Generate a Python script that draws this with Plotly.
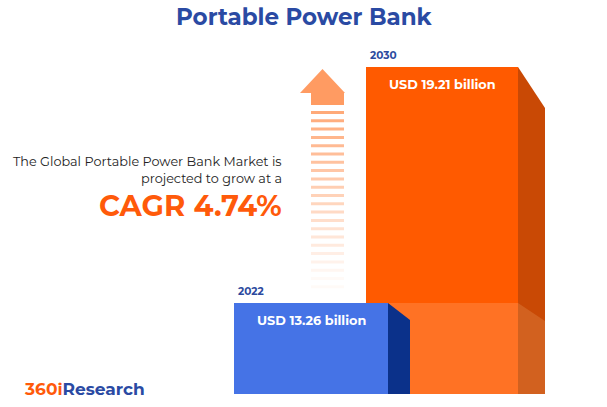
import plotly.graph_objects as go

years = ['2022', '2030']
values = [13.26, 19.21]
labels = ['USD 13.26 billion', 'USD 19.21 billion']
# drawn bar heights in pixels (the bars are not to scale)
bar_px = [91, 327]
bar_x = [311, 442]
bar_w = [154, 152]
front = ['#4573e6', '#ff5a00']
side = ['#0b318a', '#c94905']

H = 407
base = H - 394


def poly(xs, ys, color):
    return go.Scatter(x=xs, y=ys, fill='toself', fillcolor=color, line_width=0,
                      mode='lines', hoverinfo='skip')


fig = go.Figure()

# orange bar
x0, x1 = bar_x[1] - bar_w[1] / 2, bar_x[1] + bar_w[1] / 2
top = base + bar_px[1]
fig.add_trace(poly([x1, x1 + 27, x1 + 27, x1], [top, top - 41, base, base], side[1]))
fig.add_trace(go.Bar(x=[bar_x[1]], y=[bar_px[1]], base=base, width=bar_w[1],
                     marker_color=front[1], marker_line_width=0, hoverinfo='skip'))
# lighter lower part of the orange bar behind the blue one
blue_top = base + bar_px[0]
fig.add_trace(poly([x0, x1, x1, x0], [blue_top, blue_top, base, base], '#ff7224'))
fig.add_trace(poly([x1, x1 + 27, x1 + 27, x1], [blue_top, blue_top - 18, base, base], '#d2611f'))

# blue bar
bx0, bx1 = bar_x[0] - bar_w[0] / 2, bar_x[0] + bar_w[0] / 2
fig.add_trace(poly([bx1, bx1 + 22, bx1 + 22, bx1], [blue_top, blue_top - 17, base, base], side[0]))
fig.add_trace(poly([bx0, bx1, bx1, bx0], [blue_top, blue_top, base, base], front[0]))

# arrow
fig.add_trace(poly([300, 322.5, 345, 344, 344, 311, 311, 300],
                   [H - 93, H - 69, H - 93, H - 93, H - 105, H - 105, H - 93, H - 93], '#ff9b62'))
shapes = []
for i in range(22):
    y = 111 + i * 8.3
    op = max(0.05, 0.85 - i * 0.04)
    shapes.append(dict(type='rect', x0=311, x1=344, y0=H - y - 3, y1=H - y,
                       fillcolor='#ff9b62', opacity=op, line_width=0, layer='below'))

for yr, lab, v, cx, w, px_h in zip(years, labels, values, bar_x, bar_w, bar_px):
    t = base + px_h
    fig.add_annotation(x=cx - w / 2 + 2, y=t + 3, text='<b>%s</b>' % yr, showarrow=False,
                       xanchor='left', yanchor='bottom', font=dict(size=10.5, color='#2c4a9e'))
    fig.add_annotation(x=cx, y=t - 17, text='<b>%s</b>' % lab, showarrow=False,
                       font=dict(size=12.8, color='white'))

fig.add_annotation(x=304, y=H - 17, text='<b>Portable Power Bank</b>', showarrow=False,
                   font=dict(size=23, color='#2a4aa3'))
fig.add_annotation(x=284, y=H - 161, text='The Global Portable Power Bank Market is',
                   xanchor='right', showarrow=False, font=dict(size=12.8, color='#222'))
fig.add_annotation(x=284, y=H - 178, text='projected to grow at a',
                   xanchor='right', showarrow=False, font=dict(size=12.8, color='#222'))
fig.add_annotation(x=284, y=H - 205, text='<b>CAGR 4.74%</b>',
                   xanchor='right', showarrow=False, font=dict(size=29, color='#ff5a0a'))
fig.add_annotation(x=22, y=H - 389, xanchor='left', showarrow=False,
                   text="<b><span style='color:#ff5a0a'>360i</span>Research</b>",
                   font=dict(size=17, color='#2a4aa3'))

fig.update_layout(width=607, height=407, margin=dict(l=0, r=0, t=0, b=0),
                  paper_bgcolor='white', plot_bgcolor='white', showlegend=False,
                  barmode='overlay', shapes=shapes,
                  font=dict(family='Montserrat, Lato, sans-serif'),
                  xaxis=dict(range=[0, 607], visible=False, fixedrange=True),
                  yaxis=dict(range=[0, 407], visible=False, fixedrange=True))
fig.write_html("out.html", config={'displayModeBar': False},
               post_script="document.body.style.margin='0';")
